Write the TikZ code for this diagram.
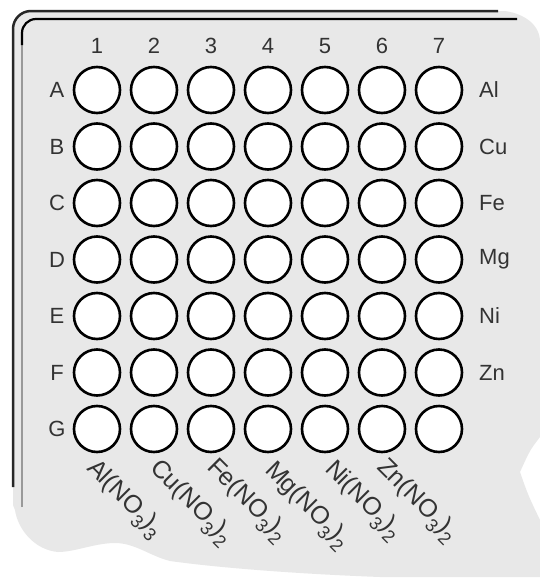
\documentclass[tikz,border=0pt]{standalone}
\usepackage{fontspec}
\setmainfont{Liberation Sans}
\newcommand{\sbs}[1]{\raisebox{-0.3em}{\fontsize{18}{20}\selectfont #1}}
\begin{document}
\begin{tikzpicture}[x=1pt,y=-1pt,
  well/.style={circle,draw=black,line width=2.6pt,fill=white,minimum size=46pt,inner sep=0pt},
  lab/.style={font=\fontsize{22}{26}\selectfont,text=black!80,inner sep=0pt},
  salt/.style={lab,font=\fontsize{25}{28}\selectfont,rotate=-45,anchor=north west},
  panel/.style={fill=black!9},
  rim/.style={line width=2.5pt,draw=black!85}]
\useasboundingbox (0,0) rectangle (540,579);
\fill[white] (0,0) rectangle (540,579);
% plate body with torn edge
\path[panel] (13,505) [rounded corners=18pt]-- (13,11) [sharp corners]-- (505,11)
  .. controls (525,14) and (540,25) .. (540,42) -- (540,437)
  .. controls (530,450) .. (520,472) .. controls (528,495) .. (540,520)
  -- (540,577) -- (380,577)
  .. controls (300,574) and (220,568) .. (170,561)
  .. controls (150,556) and (135,543) .. (115,543)
  .. controls (95,543) and (75,552) .. (58,552)
  .. controls (35,550) and (18,530) .. (15,510) -- cycle;
% rims
\draw[rim] (13,487) [rounded corners=18pt]-- (13,11) -- (498,11);
\draw[black!40,line width=2pt] (22,507) -- (22,40);
\draw[line width=2.2pt] (22,45) [rounded corners=14pt]-- (22,19) -- (517,19);
% wells
\foreach \r [count=\i from 0] in {A,B,C,D,E,F,G}{
  \foreach \c in {1,...,7}{
    \node[well] (w\r\c) at ({97+57*(\c-1)},{90+56.5*\i}) {};
  }
  \node[lab] (row\r) at (57,{90+56.5*\i}) {\r};
}
\foreach \c in {1,...,7}{
  \node[lab] (col\c) at ({97+57*(\c-1)},46) {\c};
}
\foreach \m [count=\i from 0] in {Al,Cu,Fe,Mg,Ni,Zn}{
  \node[lab,anchor=west] (m\m) at (479,{90+56.5*\i}) {\m};
}
% salt labels
\node[salt] (sAl) at (99,456) {Al(NO\sbs{3})\sbs{3}};
\node[salt] (sCu) at (162,456) {Cu(NO\sbs{3})\sbs{2}};
\node[salt] (sFe) at (219,455) {Fe(NO\sbs{3})\sbs{2}};
\node[salt] (sMg) at (277,458) {Mg(NO\sbs{3})\sbs{2}};
\node[salt] (sNi) at (337,457) {Ni(NO\sbs{3})\sbs{2}};
\node[salt] (sZn) at (389,455) {Zn(NO\sbs{3})\sbs{2}};
\end{tikzpicture}
\end{document}
